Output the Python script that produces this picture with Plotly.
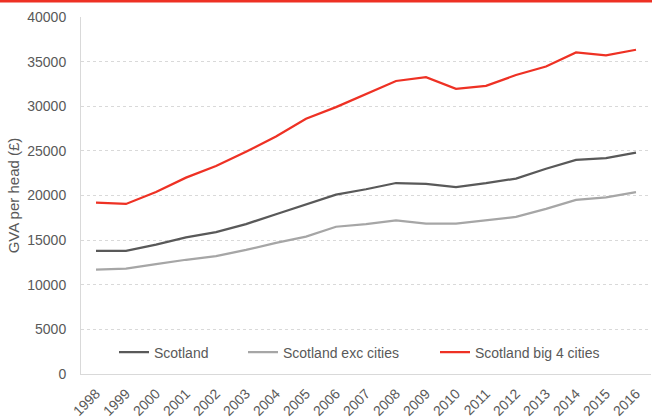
import plotly.graph_objects as go

years = [str(y) for y in range(1998, 2017)]
scotland = [13800, 13800, 14500, 15300, 15900, 16800, 17900, 19000, 20100, 20700,
            21400, 21300, 20950, 21380, 21900, 23000, 24000, 24200, 24800]
exc_cities = [11700, 11800, 12300, 12800, 13200, 13900, 14700, 15400, 16500, 16800,
              17200, 16850, 16850, 17250, 17600, 18500, 19500, 19800, 20380]
big4 = [19200, 19050, 20400, 22000, 23300, 24900, 26600, 28600, 29900, 31400,
        32830, 33250, 31950, 32280, 33500, 34450, 36030, 35700, 36330]

names = ["Scotland", "Scotland exc cities", "Scotland big 4 cities"]
colors = ["#595959", "#a6a6a6", "#ee3124"]
series = [scotland, exc_cities, big4]
legend_widths = [84, 147, None]

fig = go.Figure()
for n, c, s, lw in zip(names, colors, series, legend_widths):
    fig.add_trace(go.Scatter(x=years, y=s, name=n, mode="lines",
                             line=dict(color=c, width=2.25), legendwidth=lw))

font = "Liberation Sans, Arial, sans-serif"
W, H = 652, 418
ml, mr, mt, mb = 81, 1, 17, 44
pw, ph = W - ml - mr, H - mt - mb

fig.update_layout(
    width=W, height=H,
    margin=dict(l=ml, r=mr, t=mt, b=mb, autoexpand=False),
    paper_bgcolor="white", plot_bgcolor="white",
    font=dict(family=font, color="#595959", size=12),
    showlegend=True,
    legend=dict(orientation="h", x=(114 - ml) / pw, y=0.06, xanchor="left",
                yanchor="middle", font=dict(size=14, color="#595959"),
                bgcolor="rgba(0,0,0,0)", borderwidth=0),
    xaxis=dict(type="category", showgrid=False, showline=True, linecolor="#d9d9d9",
               linewidth=1, tickangle=-45, tickfont=dict(size=14, color="#595959"),
               ticks="outside", ticklen=5, tickcolor="rgba(0,0,0,0)",
               zeroline=False, range=[-0.5, len(years) - 0.5],
               automargin=False),
    yaxis=dict(range=[0, 40000], dtick=5000, tickformat="d", showgrid=True,
               gridcolor="#d9d9d9", griddash="3px,3px", gridwidth=1, showline=True,
               linecolor="#d9d9d9", linewidth=1, zeroline=False, automargin=False,
               tickfont=dict(size=14, color="#595959"),
               ticks="outside", ticklen=11, tickcolor="rgba(0,0,0,0)",
               title=dict(text="GVA per head (£)", font=dict(size=15, color="#595959"),
                          standoff=4)),
    shapes=[dict(type="line", xref="paper", yref="paper",
                 x0=-ml / pw, x1=1 + mr / pw, y0=1 + 16 / ph, y1=1 + 16 / ph,
                 line=dict(color="#ee3124", width=3))],
)

fig.write_html("out.html", config={"displayModeBar": False},
               post_script="document.body.style.margin='0';")
